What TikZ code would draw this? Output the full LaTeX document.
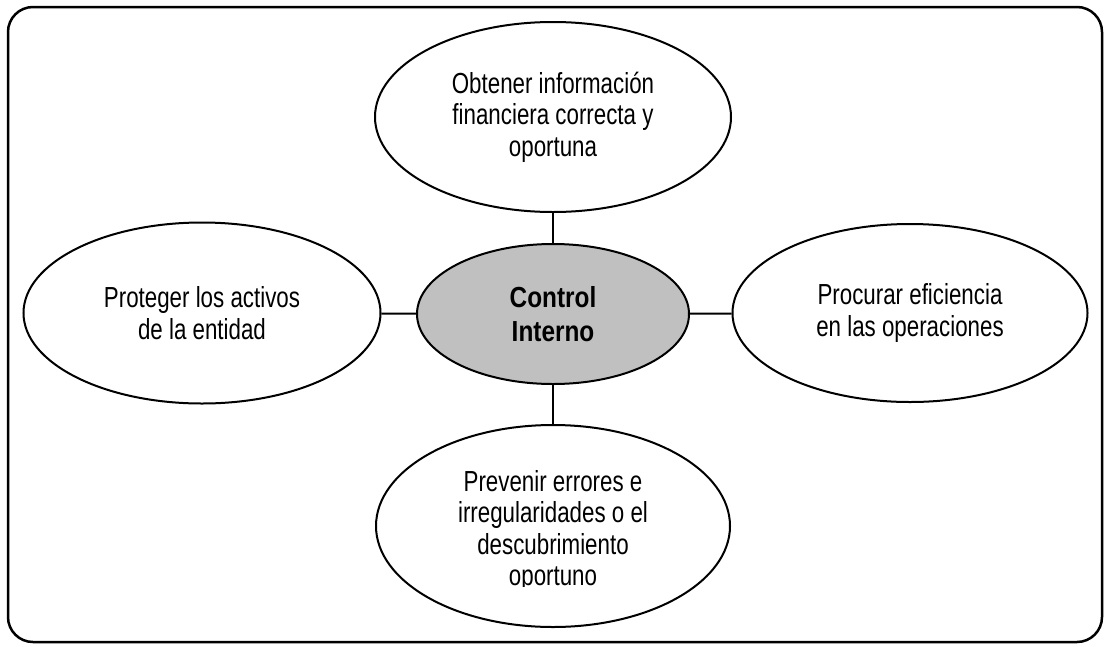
\documentclass[tikz,border=0pt]{standalone}
\usepackage{fontspec}
\usetikzlibrary{shapes.geometric}
\newfontfamily\narrowsans[FakeStretch=0.77]{Liberation Sans}
\newfontfamily\narrowbold[FakeStretch=0.84]{Liberation Sans Bold}
\definecolor{hubgray}{HTML}{C0C0C0}
\tikzset{
  goal/.style={ellipse, draw=black, line width=2pt, fill=white, inner sep=0pt,
    minimum width=356pt, minimum height=180pt},
  goaltext/.style={align=center, inner sep=0pt,
    font=\narrowsans\fontsize{29}{31.5}\selectfont},
  hub/.style={ellipse, draw=black, line width=2pt, fill=hubgray, inner sep=0pt,
    minimum width=272pt, minimum height=140pt, align=center,
    font=\narrowbold\fontsize{29}{34}\selectfont},
  link/.style={line width=2pt},
  frame/.style={line width=2.5pt, rounded corners=25pt}
}
\begin{document}
\begin{tikzpicture}[x=1pt, y=-1pt]
  \useasboundingbox (0,0) rectangle (1105,646);
  % outer frame
  \draw[frame] (8,7) rectangle (1102,642);

  % central concept
  \node[hub] (hub) at (553,314) {Control\\Interno};

  % surrounding objectives
  \node[goal, goaltext, minimum height=190pt] (top) at (553,117)
    {Obtener información\\financiera correcta y\\oportuna};
  \node[goal, goaltext, minimum width=357pt, minimum height=181pt] (left) at (202,313)
    {Proteger los activos\\de la entidad};
  \node[goal, goaltext, minimum width=355pt, minimum height=178pt] (right) at (910,313)
    {Procurar eficiencia\\en las operaciones};
  \node[goal, minimum width=354pt, minimum height=202pt] (bottom) at (553,526) {};
  \begin{scope}
    \clip (380,440) rectangle (726,586);
    \node[goaltext] (bottomtext) at (553,531)
      {Prevenir errores e\\irregularidades o el\\descubrimiento\\oportuno};
  \end{scope}

  % connectors
  \draw[link] (top) -- (hub);
  \draw[link] (hub) -- (bottom);
  \draw[link] (left) -- (hub);
  \draw[link] (hub) -- (right);
\end{tikzpicture}
\end{document}
